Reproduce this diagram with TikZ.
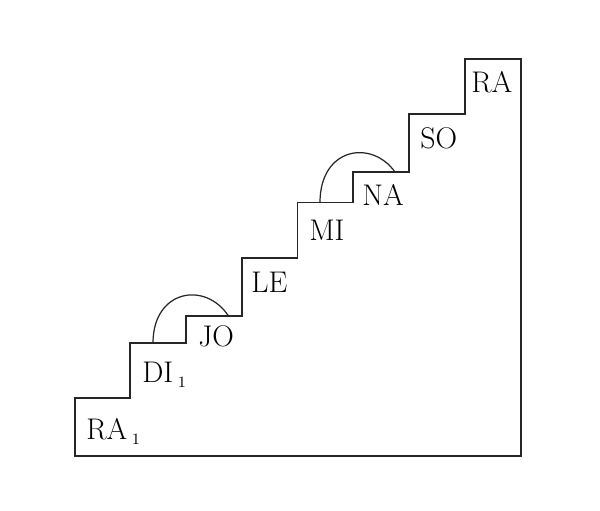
\documentclass[tikz,border=0pt]{standalone}
\usepackage{fontspec}
\usepackage{tikz}
\usetikzlibrary{positioning}

\newcommand{\lowidx}[1]{\kern0.15em\raisebox{-2.8pt}{\fontsize{9pt}{9pt}\selectfont #1}}

\tikzset{
    stair/.style={line width=1.1pt, black!85, line join=miter},
    syl/.style={font=\fontsize{17pt}{19pt}\selectfont, anchor=base west, inner sep=0pt},
    slur/.style={line width=0.7pt, black!85}
}

\begin{document}
\begin{tikzpicture}
    \useasboundingbox (0,0) rectangle (12,10.22);

    % Staircase outline
    \draw[stair] (10.42,1.10) -- (1.50,1.10) -- (1.50,2.26) -- (2.60,2.26)
        -- (2.60,3.36) -- (3.72,3.36) -- (3.72,3.90) -- (4.84,3.90)
        -- (4.84,5.06) -- (5.95,5.06) -- (5.95,6.17) -- (7.06,6.17)
        -- (7.06,6.78) -- (8.18,6.78) -- (8.18,7.94) -- (9.30,7.94)
        -- (9.30,9.04) -- (10.42,9.04) -- cycle;

    % Syllables on the steps
    \node[syl] (ra1) at (1.72,1.42) {RA\lowidx{1}};
    \node[syl] (di1) at (2.84,2.56) {DI\lowidx{1}};
    \node[syl] (jo)  at (3.96,3.28) {JO};
    \node[syl] (le)  at (5.02,4.36) {LE};
    \node[syl] (mi)  at (6.18,5.41) {MI};
    \node[syl] (na)  at (7.24,6.11) {NA};
    \node[syl] (so)  at (8.40,7.24) {SO};
    \node[syl] (ra)  at (9.42,8.36) {RA};

    % Half steps
    \coordinate (hs1) at (3.06,3.36);
    \coordinate (he1) at (4.57,3.90);
    \coordinate (hs2) at (6.40,6.17);
    \coordinate (he2) at (7.90,6.78);
    \draw[slur] (hs1) .. controls +(0,1.06) and +(-0.47,0.71) .. (he1);
    \draw[slur] (hs2) .. controls +(0,1.10) and +(-0.47,0.66) .. (he2);
\end{tikzpicture}
\end{document}
